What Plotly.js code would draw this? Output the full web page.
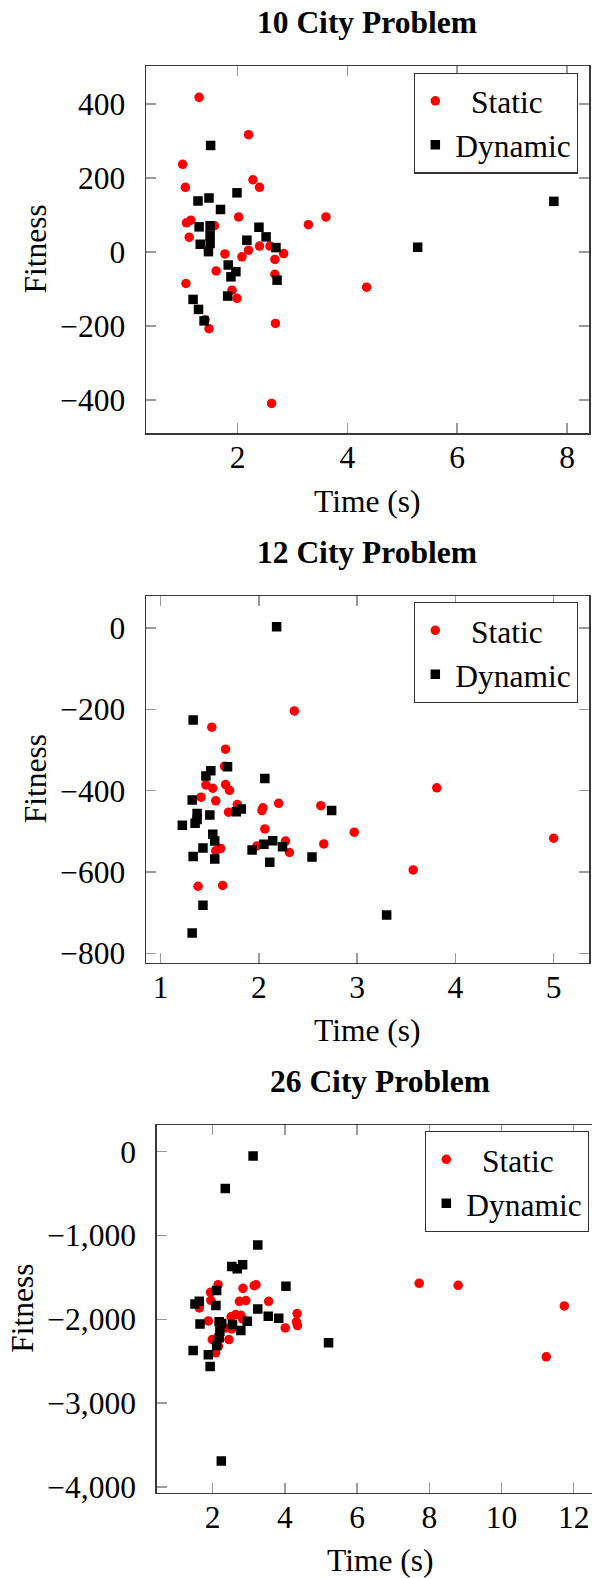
<!DOCTYPE html>
<html>
<head>
<meta charset="utf-8">
<script src="https://cdn.plot.ly/plotly-3.0.1.min.js"></script>
<style>
html, body { margin: 0; padding: 0; overflow: hidden; background: #fff; }
#chart { width: 610px; height: 1578px; }
</style>
</head>
<body>
<div id="chart"></div>
<script>
// ---- Data ----
const titles = ["10 City Problem", "12 City Problem", "26 City Problem"];
const xLabel = "Time (s)";
const yLabel = "Fitness";
const seriesNames = ["Static", "Dynamic"];

const static10_x = [1.30,2.20,1.00,2.28,1.05,2.40,2.02,3.29,1.07,1.15,1.58,1.12,2.40,2.59,2.84,1.77,2.08,2.20,2.68,1.61,2.68,1.06,1.90,1.99,1.41,1.48,2.69,2.62,3.61,4.35];
const static10_y = [418,317,237,195,175,175,95,74,79,86,71,40,16,16,-4,-5,-13,5,-20,-51,-60,-85,-103,-125,-183,-207,-193,-409,95,-95];
const dynamic10_x = [1.51,1.28,1.48,1.99,1.69,1.30,1.50,2.39,1.50,2.17,2.52,1.32,1.50,1.47,2.70,1.83,1.97,1.88,2.72,1.82,1.19,1.29,1.39,5.28,7.76];
const dynamic10_y = [288,138,146,160,115,68,71,67,46,32,41,21,23,1,12,-35,-53,-67,-76,-119,-128,-155,-186,13,137];

const static12_x = [2.36,1.52,1.66,1.65,1.46,1.53,1.66,1.70,1.41,1.56,1.78,2.20,2.63,2.04,2.03,1.69,2.06,2.27,1.98,2.31,1.61,1.56,1.38,1.63,2.97,2.66,3.81,3.57,5.00];
const static12_y = [-204,-244,-298,-340,-386,-394,-385,-399,-416,-425,-434,-431,-437,-442,-449,-453,-494,-524,-536,-552,-542,-548,-635,-633,-502,-531,-393,-595,-517];
const dynamic12_x = [2.18,1.33,1.68,1.51,1.46,2.06,1.32,1.82,1.77,1.37,1.50,1.37,1.35,1.22,1.53,1.55,2.14,2.05,2.24,1.93,1.43,1.33,1.55,2.11,2.54,1.43,1.32,2.74,3.30];
const dynamic12_y = [3,-226,-341,-351,-364,-370,-423,-445,-452,-456,-460,-471,-480,-485,-507,-524,-523,-532,-538,-546,-541,-562,-568,-576,-563,-682,-750,-449,-706];

const static26_x = [3.20,3.15,2.15,2.84,1.94,1.95,1.63,2.74,2.92,3.55,4.34,4.32,4.35,4.01,2.51,2.64,2.78,2.83,1.88,2.37,2.53,2.45,1.99,2.16,2.08,7.72,8.80,11.74,11.24];
const static26_y = [-1587,-1599,-1587,-1631,-1679,-1774,-1865,-1786,-1777,-1786,-1932,-2031,-2075,-2103,-1971,-1944,-1952,-1996,-2020,-2103,-2115,-2242,-2242,-2321,-2400,-1571,-1595,-1841,-2448];
const dynamic26_x = [3.12,2.35,3.25,2.53,2.68,2.83,4.03,2.11,1.63,1.51,2.09,3.25,3.54,3.83,5.21,2.96,2.55,2.78,1.65,2.18,2.25,2.20,2.18,2.11,1.88,1.46,1.93,2.24];
const dynamic26_y = [-51,-440,-1115,-1369,-1397,-1349,-1607,-1658,-1786,-1817,-1837,-1877,-1964,-1988,-2281,-2023,-2063,-2135,-2055,-2031,-2051,-2143,-2222,-2313,-2424,-2373,-2563,-3690];

// ---- Layout helpers ----
const W = 610, H = 1578;
const FONT = "Liberation Serif";
const FS = 31.5;
const px = v => v / W;
const py = v => 1 - v / H;

const panels = [
  {sx: static10_x, sy: static10_y, dx: dynamic10_x, dy: dynamic10_y,
   box: [146, 589, 66, 433], xr: [0.333, 8.40], yr: [-489, 502.7], xd: 2, yd: 200,
   leg: [578, 72.5], ytx: 35},
  {sx: static12_x, sy: static12_y, dx: dynamic12_x, dy: dynamic12_y,
   box: [146, 589, 596, 962.7], xr: [0.85, 5.36], yr: [-823, 78.7], xd: 1, yd: 200,
   leg: [578, 602], ytx: 35},
  {sx: static26_x, sy: static26_y, dx: dynamic26_x, dy: dynamic26_y,
   box: [156.7, 604, 1125, 1492.5], xr: [0.45, 12.84], yr: [-4067, 318], xd: 2, yd: 1000,
   leg: [589, 1131], ytx: 23}
];

const traces = [];
const layout = {
  width: W, height: H,
  margin: {l: 0, r: 0, t: 0, b: 0},
  paper_bgcolor: "#fff", plot_bgcolor: "#fff",
  font: {family: FONT, size: FS, color: "#000"},
  annotations: [],
  showlegend: true
};

panels.forEach((p, i) => {
  const n = i === 0 ? "" : String(i + 1);
  const xa = "x" + n, ya = "y" + n;
  const legName = "legend" + n;
  traces.push({
    type: "scatter", mode: "markers", x: p.sx, y: p.sy, xaxis: xa, yaxis: ya,
    name: "\u00a0\u00a0" + seriesNames[0], legend: legName,
    marker: {symbol: "circle", size: 9.5, color: "#ff0000", line: {width: 0}},
    hoverinfo: "x+y"
  });
  traces.push({
    type: "scatter", mode: "markers", x: p.dx, y: p.dy, xaxis: xa, yaxis: ya,
    name: seriesNames[1], legend: legName,
    marker: {symbol: "square", size: 9.5, color: "#000000", line: {width: 0}},
    hoverinfo: "x+y"
  });
  const common = {
    showgrid: false, zeroline: false, showline: true, mirror: "ticks",
    linecolor: "#3a3a3a", linewidth: 1.5,
    ticks: "inside", ticklen: 10, tickwidth: 1.5, tickcolor: "#9a9a9a",
    tickfont: {family: FONT, size: FS, color: "#000"},
    fixedrange: true
  };
  layout["xaxis" + n] = Object.assign({}, common, {
    domain: [px(p.box[0]), px(p.box[1])], anchor: ya,
    range: p.xr, tick0: 0, dtick: p.xd, ticklabelstandoff: -4
  });
  layout["yaxis" + n] = Object.assign({}, common, {
    domain: [py(p.box[3]), py(p.box[2])], anchor: xa,
    range: p.yr, tick0: 0, dtick: p.yd, ticklabelstandoff: 13,
    separatethousands: true, tickformat: ",d"
  });
  layout[legName] = {
    x: px(p.leg[0]), y: py(p.leg[1]), xanchor: "right", yanchor: "top",
    xref: "paper", yref: "paper",
    bgcolor: "#fff", bordercolor: "#333", borderwidth: 1.3,
    font: {family: FONT, size: FS, color: "#000"},
    tracegroupgap: 0, itemwidth: 30
  };
  const cx = (p.box[0] + p.box[1]) / 2;
  layout.annotations.push({
    text: "<b>" + titles[i] + "</b>", xref: "paper", yref: "paper",
    x: px(cx), y: py(p.box[2] - 43.7), xanchor: "center", yanchor: "middle",
    showarrow: false, font: {family: FONT, size: FS, color: "#000"}
  });
  layout.annotations.push({
    text: xLabel, xref: "paper", yref: "paper",
    x: px(cx), y: py(p.box[3] + 68), xanchor: "center", yanchor: "middle",
    showarrow: false, font: {family: FONT, size: FS, color: "#000"}
  });
  layout.annotations.push({
    text: yLabel, xref: "paper", yref: "paper",
    x: px(p.ytx), y: py((p.box[2] + p.box[3]) / 2), xanchor: "center", yanchor: "middle",
    textangle: -90, showarrow: false, font: {family: FONT, size: FS, color: "#000"}
  });
});

Plotly.newPlot("chart", traces, layout, {displayModeBar: false, staticPlot: true});
</script>
</body>
</html>
